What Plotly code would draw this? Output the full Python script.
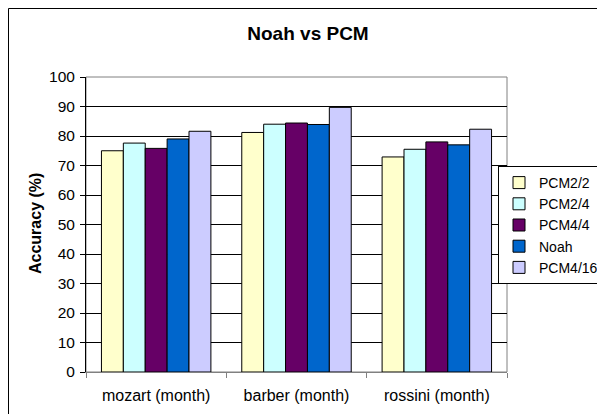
import plotly.graph_objects as go

categories = ["mozart (month)", "barber (month)", "rossini (month)"]
series_names = ["PCM2/2", "PCM2/4", "PCM4/4", "Noah", "PCM4/16"]
pcm2_2 = [75.0, 81.2, 72.9]
pcm2_4 = [77.6, 84.0, 75.5]
pcm4_4 = [75.8, 84.4, 78.0]
noah = [79.0, 83.9, 77.0]
pcm4_16 = [81.6, 89.7, 82.3]
y_ticks = [0, 10, 20, 30, 40, 50, 60, 70, 80, 90, 100]

colors = ["#FFFFCC", "#CCFFFF", "#660066", "#0066CC", "#CCCCFF"]
values = [pcm2_2, pcm2_4, pcm4_4, noah, pcm4_16]

FONT = "Liberation Sans, Arial, sans-serif"

fig = go.Figure()
for name, vals, col in zip(series_names, values, colors):
    fig.add_trace(go.Bar(
        x=categories, y=vals, name=name,
        marker=dict(color=col, line=dict(color="black", width=1)),
    ))

# page body has an 8px margin; figure is laid out in figure pixels
OFF = 8
W, H = 605 - OFF, 414 - OFF
L = 86 - OFF
T = 77 - OFF
R = W - (507 - OFF)
B = H - (372 - OFF)
pw = W - L - R
ph = H - T - B


def px_x(px):
    return (px - OFF - L) / pw


def px_y(py):
    return (H - B - (py - OFF)) / ph


fig.update_layout(
    width=W, height=H,
    margin=dict(l=L, r=R, t=T, b=B, autoexpand=False),
    paper_bgcolor="white", plot_bgcolor="white",
    barmode="group", bargap=0.22, bargroupgap=0,
    font=dict(family=FONT, size=15, color="black"),
    title=dict(text="<b>Noah vs PCM</b>", x=(308 - OFF) / W, xref="container", xanchor="center",
               y=1 - (33 - OFF) / H, yref="container", yanchor="middle",
               font=dict(family=FONT, size=19, color="black")),
    showlegend=True,
    legend=dict(x=px_x(498), xanchor="left", y=px_y(166), yanchor="top",
                bordercolor="black", borderwidth=1, bgcolor="white",
                font=dict(family=FONT, size=14, color="black"),
                tracegroupgap=0, itemwidth=30),
    xaxis=dict(
        showline=True, linecolor="#808080", linewidth=1,
        ticks="outside", tickson="boundaries", ticklen=5, tickcolor="#808080",
        showgrid=False, tickfont=dict(family=FONT, size=16, color="black"),
        ticklabelstandoff=9,
    ),
    yaxis=dict(
        range=[0, 100], tickvals=y_ticks, showline=True, linecolor="black", linewidth=1,
        ticks="outside", ticklen=5, tickcolor="black",
        showgrid=True, gridcolor="black", gridwidth=1, zeroline=False,
        tickfont=dict(family=FONT, size=15.5, color="black"),
        ticklabelstandoff=2,
    ),
    annotations=[
        dict(text="<b>Accuracy (%)</b>", xref="paper", yref="paper",
             x=px_x(35), y=px_y(224), xanchor="center", yanchor="middle",
             textangle=-90, showarrow=False,
             font=dict(family=FONT, size=16, color="black")),
    ],
    shapes=[
        dict(type="rect", xref="paper", yref="paper", x0=0, x1=1, y0=0, y1=1,
             line=dict(color="#808080", width=1), layer="below"),
        dict(type="rect", xref="paper", yref="paper",
             x0=(0.5 - L) / pw, x1=(W + 40 - L) / pw,
             y0=(H - B - (H + 40)) / ph, y1=(H - B - 0.5) / ph,
             line=dict(color="black", width=1), fillcolor="rgba(0,0,0,0)"),
    ],
)

fig.write_html("out.html")
